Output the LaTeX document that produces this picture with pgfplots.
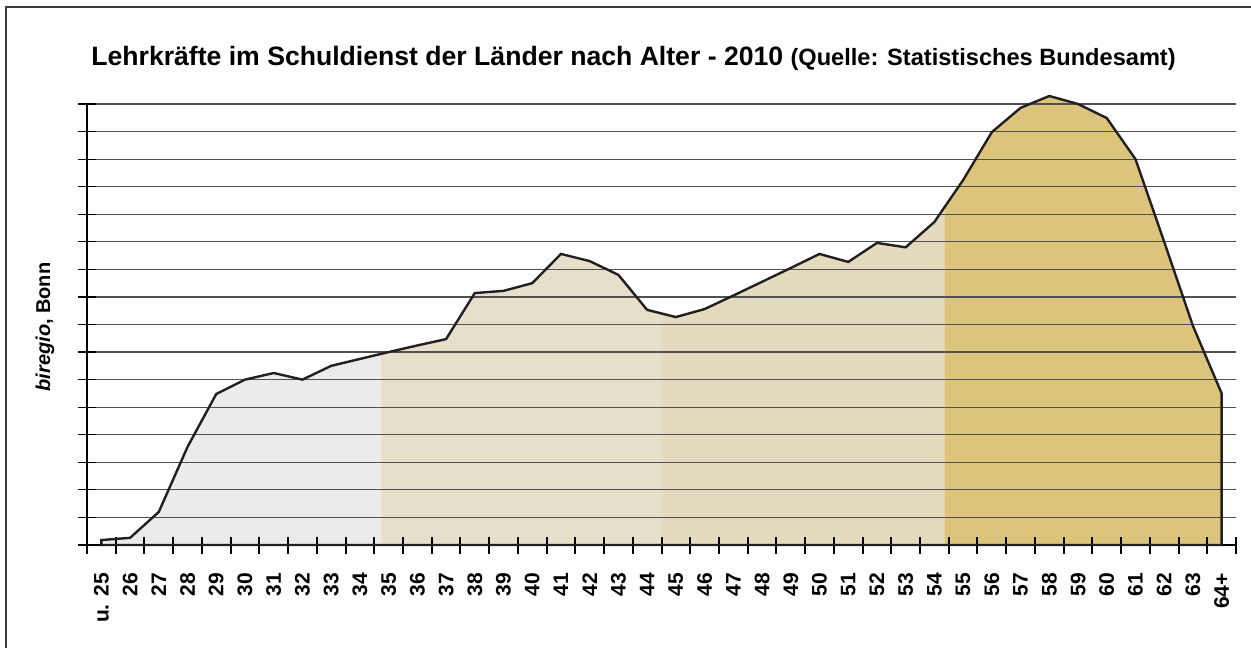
\documentclass[border=0pt]{standalone}
\usepackage{fontspec}
\setmainfont{Liberation Sans}
\usepackage{pgfplots}
\pgfplotsset{compat=1.18}
\usepgfplotslibrary{fillbetween}
\usepackage{pgfplotstable}
\definecolor{cgray}{RGB}{235,235,235}
\definecolor{cbeigeA}{RGB}{230,223,202}
\definecolor{cbeigeB}{RGB}{228,219,191}
\definecolor{cgold}{RGB}{220,196,124}
\definecolor{cline}{RGB}{35,31,32}
\definecolor{cgrid}{RGB}{80,80,80}
\pgfplotsset{
  layers/mylayers/.define layer set={axis background,axis grid,pre main,main,axis ticks,axis lines,axis tick labels,axis descriptions,axis foreground}{},
}
\pgfplotstableread{
x y
0 0.18
1 0.26
2 1.20
3 3.56
4 5.48
5 6.00
6 6.24
7 6.00
8 6.50
9 6.75
10 7.00
11 7.24
12 7.47
13 9.14
14 9.22
15 9.50
16 10.56
17 10.30
18 9.80
19 8.53
20 8.27
21 8.56
22 9.05
23 9.55
24 10.05
25 10.56
26 10.27
27 10.96
28 10.80
29 11.72
30 13.24
31 14.98
32 15.86
33 16.29
34 16.00
35 15.49
36 14.00
37 11.00
38 7.95
39 5.50
}\datatab
\begin{document}
\begin{tikzpicture}
\begin{axis}[
  set layers=mylayers,
  at={(0pt,0pt)}, anchor=south west,
  width=574.5pt, height=220.5pt, scale only axis,
  xmin=-0.5, xmax=39.5, ymin=0, ymax=16,
  clip=false,
  axis x line*=bottom, axis y line*=left,
  x axis line style={line width=1pt, -},
  y axis line style={line width=0.6pt, -},
  ytick={0,...,16}, yticklabels={},
  ymajorgrids, grid style={color=cgrid, line width=0.6pt},
  ytick style={color=black, line width=0.6pt},
  tick align=center,
  major tick length=9pt,
  xtick={0,...,39},
  xtick style={draw=none},
  xticklabels={u. 25,26,27,28,29,30,31,32,33,34,35,36,37,38,39,40,41,42,43,44,45,46,47,48,49,50,51,52,53,54,55,56,57,58,59,60,61,62,63,64+},
  xticklabel style={rotate=90, anchor=east, font=\bfseries\fontsize{10.5}{12}\selectfont},
  xticklabel shift=6pt,
  extra x ticks={-0.5,0.5,...,39.5},
  extra x tick labels={},
  extra x tick style={xtick style={draw=black, line width=1pt}, major tick length=8.5pt, tick align=center, grid=none},
]
\addplot[name path=D, draw=none] table[x=x,y=y] {\datatab};
\addplot[name path=B, draw=none] coordinates {(0,0) (39,0)};
\addplot[fill=cgray, draw=none] fill between[of=D and B, soft clip={domain=-0.5:9.72}];
\addplot[fill=cbeigeA, draw=none] fill between[of=D and B, soft clip={domain=9.72:19.56}];
\addplot[fill=cbeigeB, draw=none] fill between[of=D and B, soft clip={domain=19.56:29.35}];
\addplot[fill=cgold, draw=none] fill between[of=D and B, soft clip={domain=29.35:39.5}];
\addplot[draw=cline, line width=1.2pt, line join=miter] table[x=x,y=y] {\datatab} \closedcycle;
\end{axis}
\node[anchor=base west, inner sep=0pt] at (2pt,239.5pt)
  {\bfseries\fontsize{13.3}{16}\selectfont Lehrkräfte im Schuldienst der Länder nach Alter - 2010 {\fontsize{11.8}{13}\selectfont(Quelle: Statistisches Bundesamt)}};
\node[rotate=90, inner sep=0pt] at (-21pt,109pt)
  {\bfseries\fontsize{10}{12}\selectfont\textit{biregio}, Bonn};
\draw[line width=1pt, color={rgb,255:red,60;green,60;blue,60}] (-40.5pt,-51.5pt) -- (-40.5pt,269pt) -- (582pt,269pt);
\pgfresetboundingbox
\useasboundingbox (-43.5pt,-51.5pt) rectangle (582pt,272.5pt);
\end{tikzpicture}
\end{document}
